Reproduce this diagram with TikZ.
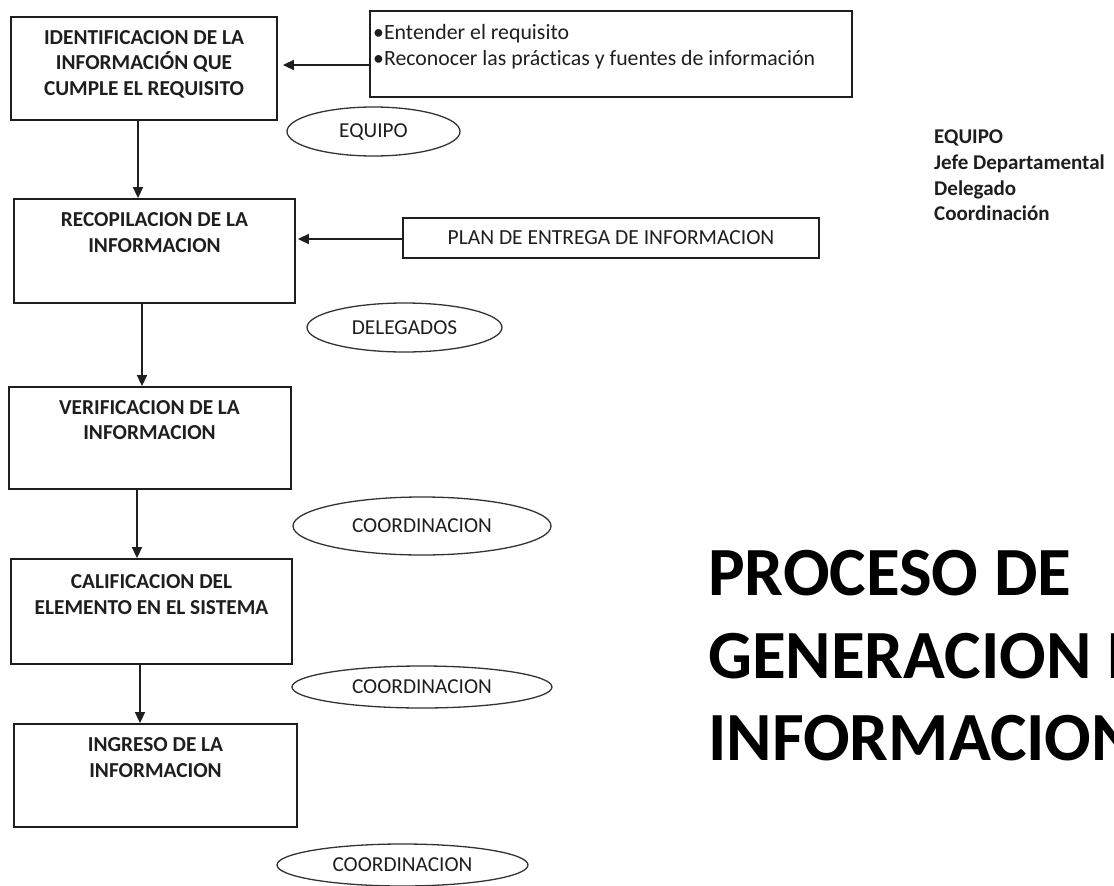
\documentclass[tikz,border=0pt]{standalone}
\usepackage{fontspec}
\setmainfont{Carlito}[Ligatures={NoCommon}]
\usetikzlibrary{arrows.meta,shapes.geometric}
\definecolor{ink}{HTML}{1E1E1E}
\begin{document}
\begin{tikzpicture}[x=1pt,y=-1pt,
  boxst/.style={draw=ink, line width=1.8pt, rectangle, inner sep=0pt},
  ovalst/.style={draw=black!80, line width=1.3pt, ellipse, inner sep=0pt, text=ink, font=\fontsize{21.3}{25.6}\selectfont},
  boxtxt/.style={font=\fontsize{21.3}{25.6}\selectfont\bfseries, text=ink, align=center, inner sep=0pt},
  arr/.style={draw=ink, line width=1.6pt, -{Triangle[length=11pt,width=10pt]}},
  titletxt/.style={font=\fontsize{69}{82}\selectfont\bfseries, text=black, anchor=base west, inner sep=0pt},
]
\useasboundingbox (0,0) rectangle (1114,886);
\clip (0,0) rectangle (1114,886);
% main boxes
\node[boxst, minimum width=266pt, minimum height=103pt] (b1) at (144,68.5) {};
\node[boxst, minimum width=281pt, minimum height=104pt] (b2) at (154.5,251) {};
\node[boxst, minimum width=282pt, minimum height=102pt] (b3) at (150,438) {};
\node[boxst, minimum width=281pt, minimum height=105pt] (b4) at (151.5,611.5) {};
\node[boxst, minimum width=283pt, minimum height=103pt] (b5) at (155.5,775.5) {};
\node[boxtxt] (t1) at (144,64) {IDENTIFICACION DE LA\\INFORMACIÓN QUE\\CUMPLE EL REQUISITO};
\node[boxtxt] (t2) at (154.5,232.5) {RECOPILACION DE LA\\INFORMACION};
\node[boxtxt] (t3) at (149.5,420) {VERIFICACION DE LA\\INFORMACION};
\node[boxtxt] (t4) at (151.5,594.5) {CALIFICACION DEL\\ELEMENTO EN EL SISTEMA};
\node[boxtxt] (t5) at (155.5,757.5) {INGRESO DE LA\\INFORMACION};
% side boxes
\node[boxst, minimum width=482pt, minimum height=86pt] (bul) at (611,54) {};
\node[anchor=north west, inner sep=0pt, align=left, text=ink, font=\fontsize{21.8}{26}\selectfont] (bultxt) at (373,24) {•Entender el requisito\\•Reconocer las prácticas y fuentes de información};
\node[boxst, minimum width=416pt, minimum height=40pt, text=ink, font=\fontsize{21.5}{25.6}\selectfont] (plan) at (611,238) {PLAN DE ENTREGA DE INFORMACION};
% connectors
\draw[arr] ([yshift=-11pt]bul.west) -- ([xshift=5pt,yshift=3.5pt]b1.east);
\draw[arr] ([yshift=-1pt]plan.west) -- ([xshift=2pt,yshift=12pt]b2.east);
\draw[arr] ([xshift=-6pt]b1.south) -- ([xshift=-6pt]b1.south |- b2.north);
\draw[arr] ([xshift=-12.5pt]b2.south) -- ([xshift=-12.5pt]b2.south |- b3.north);
\draw[arr] ([xshift=-13pt]b3.south) -- ([xshift=-13pt]b3.south |- b4.north);
\draw[arr] ([xshift=-11.5pt]b4.south) -- ([xshift=-11.5pt]b4.south |- b5.north);
% ovals
\node[ovalst, minimum width=173pt, minimum height=49pt] (e1) at (373.5,131.5) {EQUIPO};
\node[ovalst, minimum width=195pt, minimum height=49pt] (e2) at (404.5,327.5) {DELEGADOS};
\node[ovalst, minimum width=258pt, minimum height=58pt] (e3) at (422,526) {COORDINACION};
\node[ovalst, minimum width=260pt, minimum height=42pt] (e4) at (422,687) {COORDINACION};
\node[ovalst, minimum width=251pt, minimum height=42pt] (e5) at (402.5,865) {COORDINACION};
% team list
\node[anchor=north west, inner sep=0pt, align=left, text=ink, font=\fontsize{21}{25.6}\selectfont\bfseries] (team) at (934,130) {EQUIPO\\Jefe Departamental\\Delegado\\Coordinación};
% title
\node[titletxt] (ti1) at (708,595) {PROCESO DE};
\node[titletxt] (ti2) at (708,678) {GENERACION DE};
\node[titletxt] (ti3) at (708,760) {INFORMACION};
\end{tikzpicture}
\end{document}
